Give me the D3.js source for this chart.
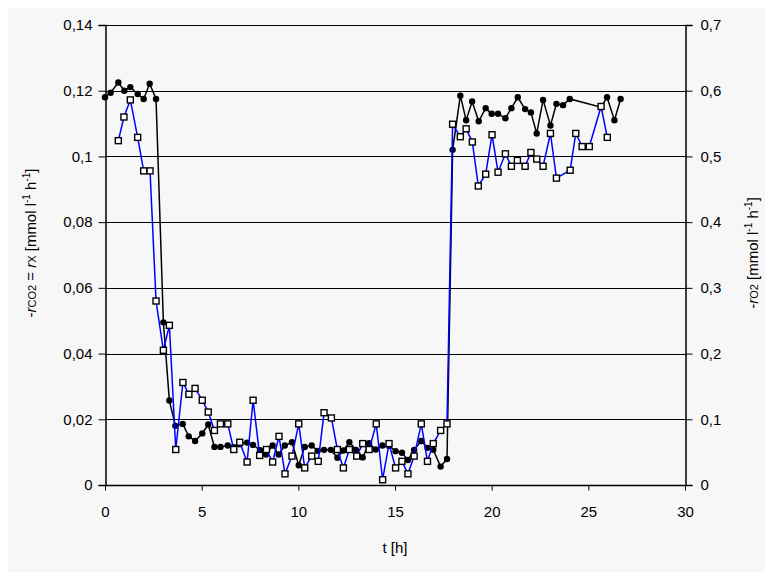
<!DOCTYPE html>
<html>
<head>
<meta charset="utf-8">
<script src="https://cdn.jsdelivr.net/npm/d3@7"></script>
<style>
  body { margin: 0; background: #ffffff; }
  text { font-family: "Liberation Sans", Arial, sans-serif; fill: #000; }
</style>
</head>
<body>
<div id="chart"></div>
<script>
// time [h] and -rCO2 (left axis)
var co2_t = [0, 0.29, 0.69, 1.0, 1.31, 1.69, 2.0, 2.31, 2.64, 3.02, 3.33, 3.64, 4.02, 4.33, 4.66, 5.03, 5.34, 5.66, 5.97, 6.35, 6.66,
  6.97, 7.35, 7.66, 8.02, 8.33, 8.67, 8.98, 9.3, 9.67, 10.02, 10.33, 10.69, 11.0, 11.33, 11.68, 12.02, 12.33, 12.64, 12.98, 13.33,
  13.66, 14.0, 14.35, 14.69, 15.03, 15.36, 15.67, 15.99, 16.36, 16.68, 16.98, 17.36, 17.69, 17.98, 18.38, 18.68, 18.99, 19.33, 19.69, 20.0,
  20.33, 20.71, 21.02, 21.35, 21.73, 22.03, 22.33, 22.66, 23.04, 23.35, 23.69, 24.04, 25.66, 25.97, 26.35, 26.67];
var co2_v = [0.118, 0.1194, 0.1225, 0.120, 0.1211, 0.119, 0.1175, 0.1221, 0.1175, 0.0495, 0.0257, 0.018, 0.0186, 0.0148, 0.0134, 0.0157, 0.0184, 0.0116, 0.0116, 0.012, 0.0115,
  0.0124, 0.0129, 0.0122, 0.0106, 0.0093, 0.012, 0.0093, 0.012, 0.013, 0.006, 0.0116, 0.012, 0.0104, 0.0107, 0.0107, 0.0083, 0.0105, 0.013, 0.0107, 0.0084,
  0.0127, 0.0108, 0.012, 0.0119, 0.0103, 0.0098, 0.0076, 0.0107, 0.0134, 0.0113, 0.0107, 0.0056, 0.0079, 0.102, 0.1185, 0.111, 0.1167, 0.1107, 0.1147, 0.113,
  0.113, 0.1116, 0.1147, 0.118, 0.1144, 0.1134, 0.107, 0.1172, 0.1094, 0.116, 0.1156, 0.1175, 0.115, 0.118, 0.111, 0.1175];
// time [h] and -rO2 (right axis)
var o2_t = [0.69, 0.98, 1.31, 1.69, 2.0, 2.33, 2.64, 3.02, 3.33, 3.66, 4.03, 4.34, 4.66, 5.03, 5.34, 5.66, 5.97, 6.35, 6.66,
  6.97, 7.35, 7.66, 8.0, 8.35, 8.67, 9.0, 9.31, 9.67, 10.02, 10.33, 10.69, 11.03, 11.33, 11.71, 12.02, 12.33, 12.64, 13.02, 13.33,
  13.66, 14.03, 14.36, 14.69, 15.03, 15.36, 15.67, 15.99, 16.36, 16.68, 16.98, 17.36, 17.69, 17.98, 18.38, 18.68, 19.0, 19.31, 19.69, 20.02,
  20.33, 20.71, 21.02, 21.33, 21.73, 22.03, 22.33, 22.66, 23.04, 23.35, 24.06, 24.35, 24.68, 25.05, 25.66, 25.98];
var o2_v = [0.524, 0.56, 0.586, 0.529, 0.478, 0.478, 0.28, 0.205, 0.243, 0.054, 0.156, 0.138, 0.147, 0.129, 0.111, 0.083, 0.093, 0.093, 0.054,
  0.065, 0.035, 0.129, 0.045, 0.054, 0.035, 0.074, 0.017, 0.044, 0.093, 0.026, 0.044, 0.036, 0.11, 0.102, 0.054, 0.026, 0.054, 0.044, 0.063,
  0.054, 0.093, 0.008, 0.063, 0.026, 0.036, 0.017, 0.044, 0.093, 0.036, 0.063, 0.083, 0.093, 0.549, 0.53, 0.542, 0.522, 0.455, 0.473, 0.533,
  0.476, 0.504, 0.485, 0.494, 0.485, 0.506, 0.496, 0.485, 0.535, 0.467, 0.479, 0.535, 0.515, 0.515, 0.576, 0.529];
var x_ticks = [0, 5, 10, 15, 20, 25, 30];
var left_ticks = [0, 0.02, 0.04, 0.06, 0.08, 0.1, 0.12, 0.14];
var right_ticks = [0, 0.1, 0.2, 0.3, 0.4, 0.5, 0.6, 0.7];

var width = 765, height = 572;
var fmt = function(d){ return d === 0 ? "0" : String(+d.toFixed(2)).replace(".", ","); };

var svg = d3.select("#chart").append("svg").attr("width", width).attr("height", height);
svg.append("rect").attr("x", 8).attr("y", 8).attr("width", width - 8).attr("height", height - 8).attr("fill", "#f7f7f7");

var x = d3.scaleLinear().domain([0, 30]).range([105, 685]);
var yL = d3.scaleLinear().domain([0, 0.14]).range([485, 25]);
var yR = d3.scaleLinear().domain([0, 0.7]).range([485, 25]);

// grid
svg.append("g").selectAll("line").data(left_ticks).enter().append("line")
  .attr("x1", x(0)).attr("x2", x(30))
  .attr("y1", function(d){ return Math.round(yL(d)) + 0.5; })
  .attr("y2", function(d){ return Math.round(yL(d)) + 0.5; })
  .attr("stroke", "#000").attr("stroke-width", 1);

// axes
var gx = svg.append("g").attr("transform", "translate(0," + 485.5 + ")")
  .call(d3.axisBottom(x).tickValues(x_ticks).tickSize(5).tickPadding(16).tickFormat(d3.format("d")));
var gl = svg.append("g").attr("transform", "translate(105.5,0)")
  .call(d3.axisLeft(yL).tickValues(left_ticks).tickSize(7).tickPadding(6).tickFormat(fmt));
var gr = svg.append("g").attr("transform", "translate(685.5,0)")
  .call(d3.axisRight(yR).tickValues(right_ticks).tickSize(7).tickPadding(8).tickFormat(fmt));
[gx, gl, gr].forEach(function(g){
  g.select(".domain").attr("stroke", "#000").attr("stroke-width", 1.5);
  g.selectAll(".tick line").attr("stroke", "#000");
  g.selectAll("text").style("font-family", "'Liberation Sans', Arial, sans-serif").style("font-size", "15px");
});
gx.select(".domain").remove();
svg.append("line").attr("x1", x(0)).attr("x2", x(30)).attr("y1", 485.5).attr("y2", 485.5).attr("stroke", "#000").attr("stroke-width", 1.5);

// black series
var co2_data = co2_t.map(function(t, i){ return {t: t, v: co2_v[i]}; });
var o2_data = o2_t.map(function(t, i){ return {t: t, v: o2_v[i]}; });

svg.append("path").datum(co2_data)
  .attr("fill", "none").attr("stroke", "#000").attr("stroke-width", 1.5)
  .attr("d", d3.line().x(function(d){ return x(d.t); }).y(function(d){ return yL(d.v); }));
svg.append("g").selectAll("circle").data(co2_data).enter().append("circle")
  .attr("cx", function(d){ return x(d.t); })
  .attr("cy", function(d){ return yL(d.v); })
  .attr("r", 3.2).attr("fill", "#000");

// blue series
svg.append("path").datum(o2_data)
  .attr("fill", "none").attr("stroke", "#0000ff").attr("stroke-width", 1.5)
  .attr("d", d3.line().x(function(d){ return x(d.t); }).y(function(d){ return yR(d.v); }));
svg.append("g").selectAll("rect").data(o2_data).enter().append("rect")
  .attr("x", function(d){ return x(d.t) - 3; })
  .attr("y", function(d){ return yR(d.v) - 3; })
  .attr("width", 6).attr("height", 6)
  .attr("fill", "#fff").attr("stroke", "#000").attr("stroke-width", 1.4);

// labels
svg.append("text").attr("x", x(15)).attr("y", 553).attr("text-anchor", "middle")
  .style("font-size", "15px").text("t [h]");

var ll = svg.append("text").attr("transform", "translate(36,243) rotate(-90)")
  .attr("text-anchor", "middle").style("font-size", "15px");
ll.append("tspan").text("-");
ll.append("tspan").style("font-style", "italic").text("r");
ll.append("tspan").style("font-size", "11px").text("CO2");
ll.append("tspan").text(" = ");
ll.append("tspan").style("font-style", "italic").text("r");
ll.append("tspan").style("font-size", "11px").text("X");
ll.append("tspan").text(" [mmol l");
ll.append("tspan").style("font-size", "10px").attr("dy", -6).text("-1");
ll.append("tspan").attr("dy", 6).text(" h");
ll.append("tspan").style("font-size", "10px").attr("dy", -6).text("-1");
ll.append("tspan").attr("dy", 6).text("]");

var rl = svg.append("text").attr("transform", "translate(758,253) rotate(-90)")
  .attr("text-anchor", "middle").style("font-size", "15px");
rl.append("tspan").text("-");
rl.append("tspan").style("font-style", "italic").text("r");
rl.append("tspan").style("font-size", "11px").text("O2");
rl.append("tspan").text(" [mmol l");
rl.append("tspan").style("font-size", "10px").attr("dy", -6).text("-1");
rl.append("tspan").attr("dy", 6).text(" h");
rl.append("tspan").style("font-size", "10px").attr("dy", -6).text("-1");
rl.append("tspan").attr("dy", 6).text("]");
</script>
</body>
</html>
